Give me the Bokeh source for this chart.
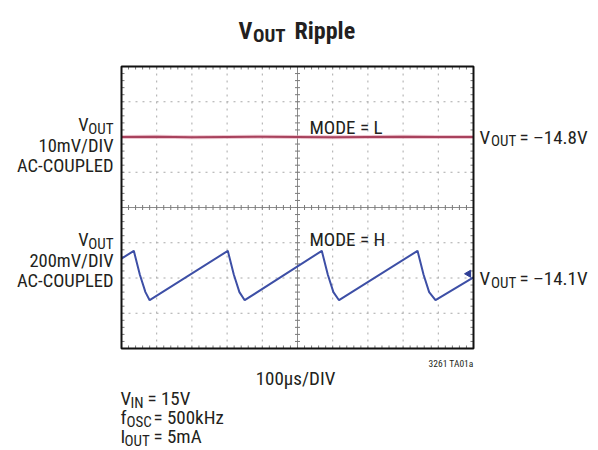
import numpy as np
from bokeh.plotting import figure
from bokeh.models import Range1d, Label
from bokeh.embed import file_html
from bokeh.resources import INLINE

# ---------------- data ----------------
# time axis: 100 us / division, 10 divisions
time_l_us = [0, 100, 200, 300, 400, 500, 600, 700, 800, 900, 1000]
# MODE = L trace (screen divisions, 0..8 from bottom)
mode_l_div = [6.00, 6.01, 5.99, 6.00, 6.01, 6.00, 5.99, 6.00, 6.01, 6.00, 6.00]

# MODE = H trace: sawtooth (screen divisions)
time_h_us = [0, 35, 52, 68, 80,
             302, 319, 335, 350,
             569, 586, 602, 618,
             841, 858, 874, 892, 1000]
mode_h_div = [2.55, 2.77, 2.10, 1.60, 1.37,
              2.77, 2.10, 1.60, 1.37,
              2.77, 2.10, 1.60, 1.37,
              2.77, 2.10, 1.60, 1.37, 2.02]

x_divs = [100, 200, 300, 400, 600, 700, 800, 900]
y_divs = [1, 2, 3, 5, 6, 7]

# ---------------- layout ----------------
FONT = "Roboto Condensed"
W, H = 598, 450
FL, FR, FT, FB = 121, 473, 66, 348        # scope screen box (page px)
T0, T1, D0, D1 = 0, 1000, 0, 8            # scope data extents
sx = (FR - FL) / (T1 - T0)
sy = (FB - FT) / (D1 - D0)

p = figure(width=W, height=H, output_backend="svg", toolbar_location=None,
           x_range=Range1d(0, W), y_range=Range1d(H, 0),
           x_axis_location=None, y_axis_location=None, min_border=0,
           background_fill_color="white", border_fill_color="white")
p.outline_line_color = None
p.xgrid.grid_line_color = None
p.ygrid.grid_line_color = None
p.extra_x_ranges = {"scope": Range1d(T0 - FL / sx, T1 + (W - FR) / sx)}
p.extra_y_ranges = {"scope": Range1d(D0 - (H - FB) / sy, D1 + FT / sy)}
S = dict(x_range_name="scope", y_range_name="scope")

GRID = "#a8a8a8"
# dotted division lines
p.segment(x0=x_divs, x1=x_divs, y0=[D0] * len(x_divs), y1=[D1] * len(x_divs),
          line_color=GRID, line_width=1, line_dash="2 5", **S)
p.segment(x0=[T0] * len(y_divs), x1=[T1] * len(y_divs), y0=y_divs, y1=y_divs,
          line_color=GRID, line_width=1, line_dash="2 5", **S)
# centre lines
p.segment(x0=[500, T0], x1=[500, T1], y0=[D0, 4], y1=[D1, 4],
          line_color="#8c8c8c", line_width=1, **S)

# minor ticks (0.2 division)
xt = np.arange(T0, T1 + 0.1, 20)[1:-1]
yt = np.arange(D0, D1 + 0.001, 0.2)[1:-1]
TICK = "#7a7a7a"
tcy, tcx = 2.5 / sy, 2.5 / sx     # half length of centre ticks
tey, tex = 3.0 / sy, 3.0 / sx     # length of edge ticks
p.segment(x0=xt, x1=xt, y0=4 - tcy, y1=4 + tcy, line_color=TICK, **S)
p.segment(x0=500 - tcx, x1=500 + tcx, y0=yt, y1=yt, line_color=TICK, **S)
p.segment(x0=xt, x1=xt, y0=D0, y1=D0 + tey, line_color=TICK, **S)
p.segment(x0=xt, x1=xt, y0=D1, y1=D1 - tey, line_color=TICK, **S)
p.segment(x0=T0, x1=T0 + tex, y0=yt, y1=yt, line_color=TICK, **S)
p.segment(x0=T1, x1=T1 - tex, y0=yt, y1=yt, line_color=TICK, **S)

# traces
p.line(time_l_us, mode_l_div, line_color="#e2a0b0", line_width=4, line_alpha=0.6, **S)
p.line(time_l_us, mode_l_div, line_color="#a8425d", line_width=2, **S)
p.line(time_h_us, mode_h_div, line_color="#3d4fa6", line_width=2, **S)
p.scatter([986], [2.12], marker="triangle", angle=np.pi / 2, size=7,
          fill_color="#2f3f96", line_color="#2f3f96", **S)

# scope frame
p.quad(left=[T0], right=[T1], bottom=[D0], top=[D1], fill_color=None,
       line_color="#111111", line_width=2, **S)


def lab(txt, x, y, size, align="left", bold=False, color="#231f20"):
    # x, y: page pixel position of the text anchor (alphabetic baseline)
    p.add_layout(Label(x=x, y=y, text=txt, text_font=FONT,
                       text_font_size=f"{size}px",
                       text_font_style="bold" if bold else "normal",
                       text_align=align, text_baseline="alphabetic",
                       text_color=color))


# title
lab("V", 238, 30.5, 24, bold=True)
lab("OUT", 252.5, 35, 19, bold=True)
lab("Ripple", 294, 30.5, 24, bold=True)

# left labels
lab("OUT", 113, 128, 15, align="right")
lab("V", 88, 124, 18.5, align="right")
lab("10mV/DIV", 113, 145, 18.5, align="right")
lab("AC-COUPLED", 113, 165, 18.5, align="right")
lab("OUT", 113, 243.5, 15, align="right")
lab("V", 88, 239, 18.5, align="right")
lab("200mV/DIV", 113, 260.5, 18.5, align="right")
lab("AC-COUPLED", 113, 280, 18.5, align="right")

# mode labels
lab("MODE = L", 309, 126.7, 19)
lab("MODE = H", 309, 239, 19)

# right labels
lab("V", 479, 136.7, 19)
lab("OUT", 490.5, 140.7, 15)
lab("= \u201314.8V", 519, 136.7, 19)
lab("V", 479, 278.4, 19)
lab("OUT", 490.5, 282.4, 15)
lab("= \u201314.1V", 519, 278.4, 19)

# bottom
lab("3261 TA01a", 473, 363, 9.5, align="right")
lab("100\u03bcs/DIV", 295, 378, 19, align="center")
lab("V", 120, 398, 19)
lab("IN", 130, 402, 15)
lab("= 15V", 147, 398, 19)
lab("f", 120, 417, 19)
lab("OSC", 126, 421, 15)
lab("= 500kHz", 153, 417, 19)
lab("I", 120, 436, 19)
lab("OUT", 124, 440, 15)
lab("= 5mA", 153, 436, 19)

open("out.html", "w").write(file_html(p, INLINE))
